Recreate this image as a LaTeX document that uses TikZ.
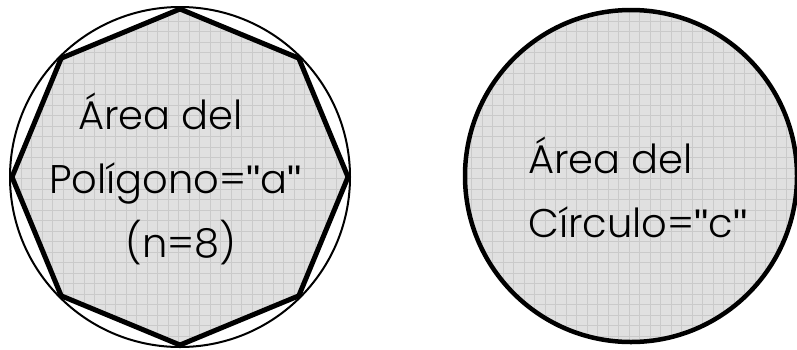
\documentclass[tikz,border=0pt]{standalone}
\usepackage{fontspec}
\usetikzlibrary{calc}
\setmainfont{Poppins}[UprightFont=* Light]
\newfontfamily\quotefont{Liberation Sans}
\newcommand{\qq}{{\quotefont\char"0022}}
\definecolor{fillgray}{HTML}{E0E0E0}
\definecolor{gridgray}{HTML}{CACACA}
\tikzset{
  lbl/.style={font=\fontsize{40}{64}\selectfont, text=black, inner sep=0pt, anchor=base west},
  gridlines/.style={draw=gridgray, line width=0.7pt},
}
\begin{document}
\begin{tikzpicture}[x=1pt,y=-1pt]
\useasboundingbox (0,0) rectangle (797,349);
% left: octagon inscribed in circle
\coordinate (c1) at (180,177);
\foreach \i in {0,...,7} {\coordinate (v\i) at ($(c1)+(\i*45:168)$);}
\begin{scope}
  \clip (v0) -- (v1) -- (v2) -- (v3) -- (v4) -- (v5) -- (v6) -- (v7) -- cycle;
  \fill[fillgray] (0,0) rectangle (360,349);
  \foreach \k in {0,...,34} {
    \draw[gridlines] (\k*10.5,0) -- (\k*10.5,349);
    \draw[gridlines] (0,\k*10.5) -- (360,\k*10.5);
  }
\end{scope}
\draw[line width=2pt] (c1) circle (170);
\draw[line width=5pt, line join=miter] (v0) -- (v1) -- (v2) -- (v3) -- (v4) -- (v5) -- (v6) -- (v7) -- cycle;
\node[lbl] (t1) at (78,129) {Área del};
\node[lbl] (t2) at (49,193) {Polígono=\qq a\qq};
\node[lbl] (t3) at (125,257) {(n=8)};
% right: circle
\coordinate (c2) at (631,176);
\begin{scope}
  \clip (c2) circle (166);
  \fill[fillgray] (440,0) rectangle (797,349);
  \foreach \k in {0,...,34} {
    \draw[gridlines] (440+\k*10.5,0) -- (440+\k*10.5,349);
    \draw[gridlines] (440,\k*10.5) -- (797,\k*10.5);
  }
\end{scope}
\draw[line width=4.5pt] (c2) circle (166);
\node[lbl] (t4) at (528,173) {Área del};
\node[lbl] (t5) at (528,237) {Círculo=\qq c\qq};
\end{tikzpicture}
\end{document}
